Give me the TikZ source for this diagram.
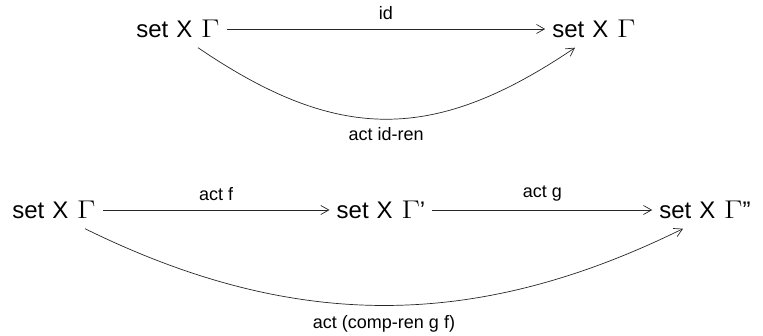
\documentclass[tikz,border=0pt]{standalone}
\usepackage{fontspec}
\setmainfont{Liberation Sans}
\usepackage{graphicx}
\usetikzlibrary{arrows.meta}
\newcommand{\Gm}{\scalebox{1.3}[1.03]{$\Gamma$}}
\newcommand{\setX}[1]{set\hspace{0.33em}X\hspace{0.36em}\Gm#1}
\begin{document}
\begin{tikzpicture}[x=1pt,y=1pt,
  obj/.style={font=\fontsize{24}{28}\selectfont, text height=17pt, text depth=0pt, inner xsep=7pt, inner ysep=10pt},
  lbl/.style={font=\fontsize{18}{22}\selectfont, inner sep=0pt},
  arr/.style={-{Straight Barb[length=8pt,width=9pt]}, line width=0.7pt, draw=black!85}]
\useasboundingbox (0,0) rectangle (763,-336);
\node[obj] (tl) at (178,-29) {\setX{}};
\node[obj] (tr) at (594,-29) {\setX{}};
\node[obj] (bl) at (54,-210) {\setX{}};
\node[obj] (bm) at (381,-210) {\setX{’}};
\node[obj] (br) at (705,-210) {\setX{”}};
\draw[arr] (tl.east) -- node[lbl, above=8.5pt] {id} (tr.west);
\draw[arr] ([xshift=20pt]tl.south) .. controls (338,-143) and (434,-143) .. ([xshift=-19pt]tr.south)
  node[lbl, pos=0.5, anchor=base, yshift=-21pt] {act id-ren};
\draw[arr] (bl.east) -- node[lbl, above=8.5pt] {act f} (bm.west);
\draw[arr] (bm.east) -- node[lbl, above=8.5pt] {act g} (br.west);
\draw[arr] ([xshift=31pt]bl.south) .. controls (293,-331) and (475,-331) .. ([xshift=-22pt]br.south)
  node[lbl, pos=0.5, anchor=base, yshift=-23pt] {act (comp-ren g f)};
\end{tikzpicture}
\end{document}
